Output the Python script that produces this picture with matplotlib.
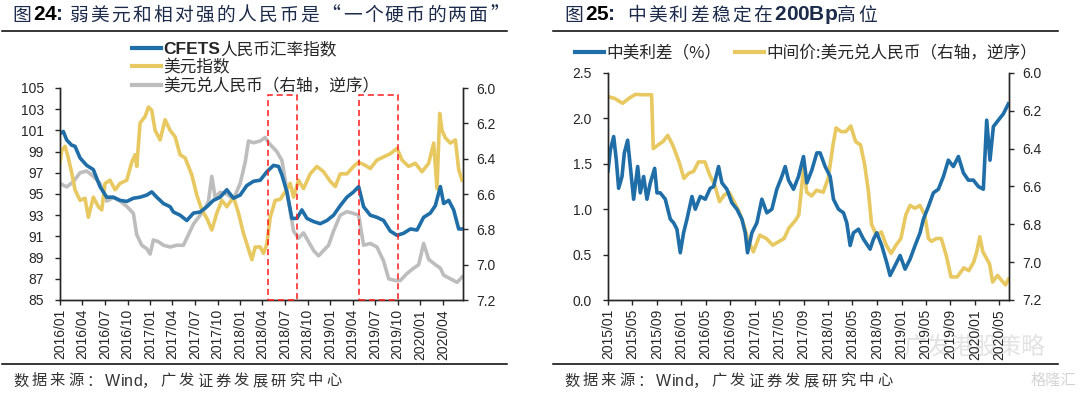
import numpy as np
import pandas as pd
import matplotlib
matplotlib.use("Agg")
import matplotlib.pyplot as plt
from matplotlib.patches import Rectangle
from matplotlib.lines import Line2D
from matplotlib.ticker import FixedLocator, FormatStrFormatter
import matplotlib.dates as mdates

W, H = 1080, 396
CJK = ['Noto Sans CJK SC', 'DejaVu Sans']
LAT = ['Liberation Sans', 'Noto Sans CJK SC', 'DejaVu Sans']
plt.rcParams['font.family'] = LAT

BLUE = '#1f6ea8'
YELLOW = '#e8c860'
GRAY = '#bdbdbd'
NAVY = '#1d2b4a'
TXT = '#262626'

# ---------------- data: left chart (months since 2016/01) ----------------
left_start = "2016-01-01"
cfets_m = [0, 0.44, 0.89, 1.56, 2.0, 2.67, 3.56, 4.44, 5.33, 6.22, 7.11, 8.0, 8.89, 9.78,
           10.67, 11.56, 12.22, 12.89, 13.78, 14.67, 15.11, 16.0, 16.89, 17.78, 18.67,
           19.56, 20.44, 21.33, 22.22, 23.11, 24.0, 24.89, 25.78, 26.67, 27.56, 28.44,
           29.11, 29.56, 30.22, 30.89, 31.56, 32.22, 32.89, 33.78, 34.67, 35.56, 36.44,
           37.33, 38.22, 39.11, 39.78, 40.44, 41.33, 42.22, 43.11, 44.0, 44.89, 45.78,
           46.67, 47.56, 48.44, 49.33, 50.0, 50.67, 51.11, 51.78, 52.44, 53.11, 53.56]
cfets_v = [100.7, 100.9, 100.1, 99.6, 99.5, 98.4, 97.7, 97.3, 95.7, 94.7, 94.7, 94.4, 94.3, 94.6,
           94.7, 94.9, 95.2, 94.7, 94.1, 93.8, 93.3, 93.0, 92.5, 93.2, 93.3,
           93.8, 94.4, 94.7, 95.4, 94.6, 94.9, 95.8, 96.2, 96.3, 97.1, 97.7,
           97.6, 96.8, 95.2, 92.7, 92.7, 93.5, 92.7, 92.4, 92.2, 92.5, 93.0,
           93.9, 94.7, 95.2, 95.7, 93.8, 93.0, 92.8, 92.5, 91.5, 91.1, 91.3,
           91.7, 91.6, 92.8, 93.2, 93.9, 95.7, 94.1, 94.4, 93.5, 91.7, 91.7]

dxy_m = [0, 0.22, 0.67, 1.11, 1.56, 2.0, 2.67, 3.33, 3.78, 4.44, 5.11, 5.56, 6.0, 6.67, 7.33,
         8.0, 8.89, 9.56, 10.0, 10.22, 10.67, 11.33, 11.78, 12.22, 12.67, 13.33, 14.0,
         14.67, 15.33, 16.0, 16.67, 17.56, 18.22, 18.89, 19.56, 20.22, 20.89, 21.56,
         22.22, 23.11, 23.78, 24.44, 25.11, 25.56, 26.0, 26.67, 27.11, 27.56, 28.0,
         28.67, 29.33, 30.0, 30.67, 31.11, 31.78, 32.44, 33.33, 34.22, 35.11, 36.0,
         36.67, 37.33, 38.22, 39.11, 39.78, 40.67, 41.33, 42.22, 43.11, 44.0, 44.89,
         45.56, 46.44, 47.33, 48.22, 49.11, 49.78, 50.22, 50.58, 50.89, 51.33, 52.0,
         52.67, 53.11, 53.56]
dxy_v = [98.0, 99.1, 99.5, 98.4, 97.0, 95.4, 94.4, 94.6, 92.8, 94.7, 93.8, 93.5, 96.0, 96.3, 95.4,
         96.0, 96.3, 98.0, 98.7, 97.6, 101.7, 102.3, 103.2, 102.9, 101.0, 100.1, 102.0,
         101.0, 100.4, 98.7, 98.4, 96.8, 94.9, 93.5, 92.7, 91.6, 93.2, 94.4,
         93.8, 94.7, 93.2, 91.3, 89.8, 88.8, 90.0, 90.0, 89.4, 90.3, 92.8,
         94.4, 94.5, 95.2, 96.0, 94.7, 96.3, 95.5, 96.9, 97.6, 97.1, 96.2,
         95.7, 96.9, 96.9, 97.6, 98.0, 97.7, 97.4, 98.2, 98.5, 98.8, 99.3,
         98.2, 97.6, 97.9, 97.1, 97.9, 99.8, 95.5, 102.6, 101.0, 100.3, 99.8,
         100.1, 97.3, 96.3]

usdcny_m = [0, 0.89, 1.78, 2.67, 3.56, 4.44, 5.33, 6.22, 7.11, 8.0, 8.89, 9.78, 10.22, 10.89,
            11.56, 12.0, 12.44, 13.11, 13.78, 14.67, 15.56, 16.44, 17.11, 17.78, 18.67,
            19.33, 19.78, 20.22, 20.67, 21.33, 22.22, 23.11, 24.0, 24.67, 25.11, 25.78,
            26.67, 27.33, 27.78, 28.22, 28.89, 29.56, 30.0, 30.44, 31.11, 31.78, 32.44,
            33.11, 33.78, 34.44, 35.11, 35.78, 36.44, 37.33, 38.22, 39.11, 39.78, 40.44,
            41.33, 42.22, 43.11, 43.78, 44.67, 45.33, 46.22, 47.11, 47.78, 48.44, 49.11,
            50.0, 50.67, 51.11, 52.0, 52.89, 53.56]
usdcny_v = [6.54, 6.56, 6.53, 6.48, 6.47, 6.50, 6.54, 6.64, 6.62, 6.64, 6.67, 6.71, 6.83, 6.89,
            6.91, 6.94, 6.86, 6.87, 6.89, 6.90, 6.89, 6.89, 6.83, 6.77, 6.72,
            6.68, 6.64, 6.50, 6.62, 6.59, 6.60, 6.63, 6.54, 6.42, 6.30, 6.31,
            6.30, 6.28, 6.31, 6.33, 6.36, 6.41, 6.52, 6.64, 6.81, 6.85, 6.82,
            6.87, 6.92, 6.95, 6.92, 6.89, 6.81, 6.72, 6.70, 6.71, 6.72, 6.89,
            6.88, 6.90, 6.98, 7.08, 7.09, 7.09, 7.05, 7.02, 7.00, 6.88, 6.97,
            7.00, 7.02, 7.06, 7.08, 7.10, 7.07]

left_ticks = ["2016/01", "2016/04", "2016/07", "2016/10", "2017/01", "2017/04", "2017/07",
              "2017/10", "2018/01", "2018/04", "2018/07", "2018/10", "2019/01", "2019/04",
              "2019/07", "2019/10", "2020/01", "2020/04"]
left_end = "2020-06-22"
box_start = ["2018-04-25", "2019-04-28"]
box_end = ["2018-08-18", "2019-10-01"]
box_top = 104.3

# ---------------- data: right chart (months since 2015/01) ----------------
right_start = "2015-01-01"
spread_m = [0, 0.38, 0.93, 1.36, 1.74, 2.29, 2.67, 3.21, 3.65, 4.19, 4.85, 5.28, 5.83, 6.37,
            6.92, 7.63, 8.01, 8.55, 9.37, 10.19, 10.73, 11.27, 11.82, 12.36, 12.91, 13.73,
            14.27, 15.09, 15.90, 16.72, 17.27, 18.08, 18.63, 19.44, 20.26, 21.08, 21.90,
            22.44, 22.82, 23.53, 24.35, 25.16, 25.98, 26.80, 27.61, 28.43, 28.98, 29.52,
            30.34, 31.15, 31.97, 32.52, 33.33, 34.15, 34.69, 35.51, 36.33, 36.87, 37.69,
            38.51, 39.05, 39.60, 40.14, 40.96, 41.78, 42.86, 43.41, 43.95, 44.77, 45.59,
            46.13, 46.95, 47.77, 48.58, 49.40, 50.22, 51.03, 51.58, 52.40, 53.21, 54.03,
            54.85, 55.66, 56.48, 57.30, 58.12, 58.93, 59.75, 60.57, 61.38, 61.93, 62.47,
            63.02, 63.83, 64.65, 65.47]
spread_v = [1.42, 1.65, 1.80, 1.54, 1.23, 1.36, 1.62, 1.76, 1.47, 1.11, 1.47, 1.18, 1.36, 1.11,
            1.29, 1.45, 1.18, 1.18, 1.11, 0.89, 0.85, 0.78, 0.52, 0.74, 0.89, 1.14,
            1.00, 1.14, 1.11, 1.23, 1.25, 1.47, 1.29, 1.22, 1.07, 1.00, 0.89,
            0.74, 0.52, 0.74, 0.85, 1.11, 0.96, 1.00, 1.22, 1.36, 1.47, 1.32,
            1.22, 1.36, 1.58, 1.29, 1.43, 1.62, 1.62, 1.47, 1.36, 1.11, 1.00,
            0.96, 0.85, 0.60, 0.74, 0.78, 0.67, 0.56, 0.67, 0.74, 0.60, 0.41,
            0.27, 0.38, 0.49, 0.34, 0.45, 0.60, 0.74, 0.89, 1.03, 1.18, 1.22,
            1.36, 1.54, 1.47, 1.58, 1.40, 1.32, 1.32, 1.25, 1.22, 1.98, 1.54,
            1.91, 1.98, 2.05, 2.16]

mid_m = [0, 1.06, 2.38, 3.43, 4.49, 5.81, 7.13, 7.40, 8.19, 8.98, 9.77, 10.57, 11.62, 12.42,
         13.21, 14.0, 14.79, 15.85, 16.64, 17.43, 18.23, 19.02, 19.81, 20.6, 21.4, 22.19,
         22.98, 23.77, 24.83, 25.89, 26.94, 28.0, 28.79, 29.58, 30.64, 31.2, 32.0, 32.5,
         33.3, 34.1, 35.2, 36.0, 36.8, 37.3, 38.1, 38.9, 39.7, 40.5, 41.3, 42.0, 42.6,
         43.1, 43.9, 44.7, 45.5, 46.3, 47.1, 47.9, 48.7, 49.4, 50.2, 51.0, 51.8, 52.4,
         52.9, 53.7, 54.5, 55.3, 56.1, 57.1, 58.2, 59.0, 59.8, 60.3, 60.8, 61.3, 61.9,
         62.4, 62.9, 63.7, 64.2, 65.0, 65.5]
mid_v = [6.125, 6.134, 6.16, 6.134, 6.113, 6.115, 6.115, 6.40, 6.38, 6.363, 6.33, 6.38, 6.47, 6.557,
         6.53, 6.52, 6.47, 6.47, 6.54, 6.59, 6.68, 6.645, 6.63, 6.68, 6.73, 6.80,
         6.89, 6.945, 6.857, 6.875, 6.91, 6.89, 6.875, 6.82, 6.78, 6.75, 6.50, 6.63,
         6.65, 6.62, 6.63, 6.557, 6.38, 6.29, 6.31, 6.31, 6.28, 6.363, 6.38, 6.49, 6.63,
         6.80, 6.857, 6.84, 6.91, 6.954, 6.91, 6.875, 6.75, 6.70, 6.715, 6.70, 6.75, 6.875,
         6.89, 6.875, 6.875, 6.963, 7.078, 7.078, 7.03, 7.045, 7.0, 6.945, 6.866, 6.945, 6.98,
         7.01, 7.105, 7.07, 7.09, 7.12, 7.09]

right_ticks = ["2015/01", "2015/05", "2015/09", "2016/01", "2016/05", "2016/09", "2017/01",
               "2017/05", "2017/09", "2018/01", "2018/05", "2018/09", "2019/01", "2019/05",
               "2019/09", "2020/01", "2020/05"]
right_end = "2020-06-19"


def to_dates(start, months):
    return pd.Timestamp(start) + pd.to_timedelta(np.asarray(months) * 30.4375, unit="D")


def tick_dates(labels):
    return [pd.Timestamp(s.replace("/", "-") + "-01") for s in labels]


def draw_runs(fig, x, y, runs):
    r = fig.canvas.get_renderer()
    for s, props in runs:
        props = dict(props)
        track = props.pop("track", 0)
        for ch in s:
            t = fig.text(x / W, 1 - y / H, ch, va="center", ha="left", **props)
            bb = t.get_window_extent(renderer=r)
            x += bb.width + track
    return x


def style_axes(ax, ax2, labels, start, end, ylim, yticks, yfmt, y2lim, y2ticks):
    for a in (ax, ax2):
        a.spines["top"].set_visible(False)
        for sp in a.spines.values():
            sp.set_color(TXT)
            sp.set_linewidth(1.0)
    ax.set_xlim(pd.Timestamp(start), pd.Timestamp(end))
    ax.set_xticks(tick_dates(labels))
    ax.set_xticklabels(labels, rotation=90)
    ax.set_ylim(*ylim)
    ax.yaxis.set_major_locator(FixedLocator(yticks))
    ax.yaxis.set_major_formatter(FormatStrFormatter(yfmt))
    ax2.set_ylim(*y2lim)
    ax2.yaxis.set_major_locator(FixedLocator(y2ticks))
    ax2.yaxis.set_major_formatter(FormatStrFormatter("%.1f"))
    ax.tick_params(axis="x", direction="out", length=3.5, width=1, pad=3,
                   labelsize=10, colors=TXT)
    ax.tick_params(axis="y", direction="out", length=3.5, width=1, pad=8,
                   labelsize=10, colors=TXT)
    ax2.tick_params(axis="y", direction="out", length=3.5, width=1, pad=6,
                    labelsize=10, colors=TXT)
    ax.set_zorder(ax2.get_zorder() + 1)
    ax.patch.set_visible(False)


fig = plt.figure(figsize=(W / 100, H / 100), dpi=100)
fig.patch.set_facecolor("white")

# ---------------- left chart ----------------
axL = fig.add_axes([60 / W, 1 - 300 / H, 403 / W, 212 / H])
axL2 = axL.twinx()
lw = 2.6
axL2.plot(to_dates(left_start, usdcny_m), usdcny_v, color=GRAY, lw=lw)
axL.plot(to_dates(left_start, dxy_m), dxy_v, color=YELLOW, lw=lw)
axL.plot(to_dates(left_start, cfets_m), cfets_v, color=BLUE, lw=lw)
style_axes(axL, axL2, left_ticks, left_start, left_end, (85, 105), np.arange(85, 106, 2),
           "%d", (7.2, 6.0), np.arange(6.0, 7.21, 0.2))

for s, e in zip(box_start, box_end):
    x0 = mdates.date2num(pd.Timestamp(s))
    x1 = mdates.date2num(pd.Timestamp(e))
    axL.add_patch(Rectangle((x0, 85), x1 - x0, box_top - 85, fill=False,
                            edgecolor="#ff1a1a", lw=1.1, ls=(0, (4, 2.5)),
                            clip_on=False, zorder=10))

legend_left = ["CFETS", "美元指数", "美元兑人民币（右轴，逆序）"]
hL = [Line2D([], [], color=BLUE, lw=3), Line2D([], [], color=YELLOW, lw=3),
      Line2D([], [], color=GRAY, lw=3)]
legL = axL.legend(hL, legend_left,
                  loc="upper left", bbox_to_anchor=(132 / W, 1 - 42 / H),
                  bbox_transform=fig.transFigure, frameon=False, borderpad=0,
                  borderaxespad=0, handlelength=1.75, handletextpad=0.15,
                  labelspacing=0.12, prop={"family": CJK, "size": 12})
for t in legL.get_texts():
    t.set_color(TXT)
t0 = legL.get_texts()[0]
t0.set_fontfamily(LAT)
t0.set_fontweight("bold")
t0.set_fontsize(12.5)

# ---------------- right chart ----------------
axR = fig.add_axes([608 / W, 1 - 300 / H, 401 / W, 227 / H])
axR2 = axR.twinx()
axR2.plot(to_dates(right_start, mid_m), mid_v, color=YELLOW, lw=lw)
axR.plot(to_dates(right_start, spread_m), spread_v, color=BLUE, lw=lw)
style_axes(axR, axR2, right_ticks, right_start, right_end, (0, 2.5), np.arange(0, 2.51, 0.5),
           "%.1f", (7.2, 6.0), np.arange(6.0, 7.21, 0.2))
hR = [Line2D([], [], color=BLUE, lw=3), Line2D([], [], color=YELLOW, lw=3)]
legR = axR.legend(hR, ["中美利差（%）", "中间价:美元兑人民币（右轴，逆序）"],
                  loc="upper left", bbox_to_anchor=(575 / W, 1 - 45 / H),
                  bbox_transform=fig.transFigure, frameon=False, borderpad=0,
                  borderaxespad=0, handlelength=1.75, handletextpad=0.15, ncol=2,
                  columnspacing=0.8, prop={"family": CJK, "size": 12})
for t in legR.get_texts():
    t.set_color(TXT)

# ---------------- titles, rules, footers ----------------
fig.canvas.draw()
r = fig.canvas.get_renderer()
bb0 = t0.get_window_extent(renderer=r)
fig.text(bb0.x1 / W, (bb0.y0 + bb0.y1) / 2 / H, "人民币汇率指数", family=CJK, size=12,
         color=TXT, ha="left", va="center")

cj = {"family": CJK, "size": 13.5, "color": NAVY, "track": 2.3}
num = {"family": LAT, "size": 15, "color": "black", "weight": "bold"}
nb = {"family": LAT, "size": 15, "color": NAVY, "weight": "bold"}
draw_runs(fig, 12, 15, [("图", cj), ("24", num), (": ", nb),
                        ("弱美元和相对强的人民币是“一个硬币的两面”", cj)])
draw_runs(fig, 564, 15, [("图", cj), ("25", num), (":  ", nb), ("中美利差稳定在", cj),
                         ("200Bp", nb), ("高位", cj)])

for x0, x1 in ((2, 507), (553, 1058)):
    fig.add_artist(Line2D([x0 / W, x1 / W], [1 - 31 / H, 1 - 31 / H],
                          color="black", lw=1.1, transform=fig.transFigure))
    fig.add_artist(Line2D([x0 / W, x1 / W], [1 - 364 / H, 1 - 364 / H],
                          color="black", lw=1.1, transform=fig.transFigure))

fc = {"family": CJK, "size": 11, "color": "#333333", "track": 3.2}
fl = {"family": LAT, "size": 11.5, "color": "#333333"}
for xs in (13, 564):
    draw_runs(fig, xs, 381, [("数据来源：", fc), ("Wind", fl), ("，广发证券发展研究中心", fc)])

# watermark (faint, as in the source image)
fig.text(1045 / W, 1 - 347 / H, "广发港股策略", family=CJK, size=17, color="#dcdcdc",
         ha="right", va="center", alpha=0.8, zorder=0)
fig.text(1076 / W, 1 - 380 / H, "格隆汇", family=CJK, size=11, color="#d0d0d0",
         ha="right", va="center", alpha=0.9)

fig.savefig("out.png", dpi=100, facecolor="white")
